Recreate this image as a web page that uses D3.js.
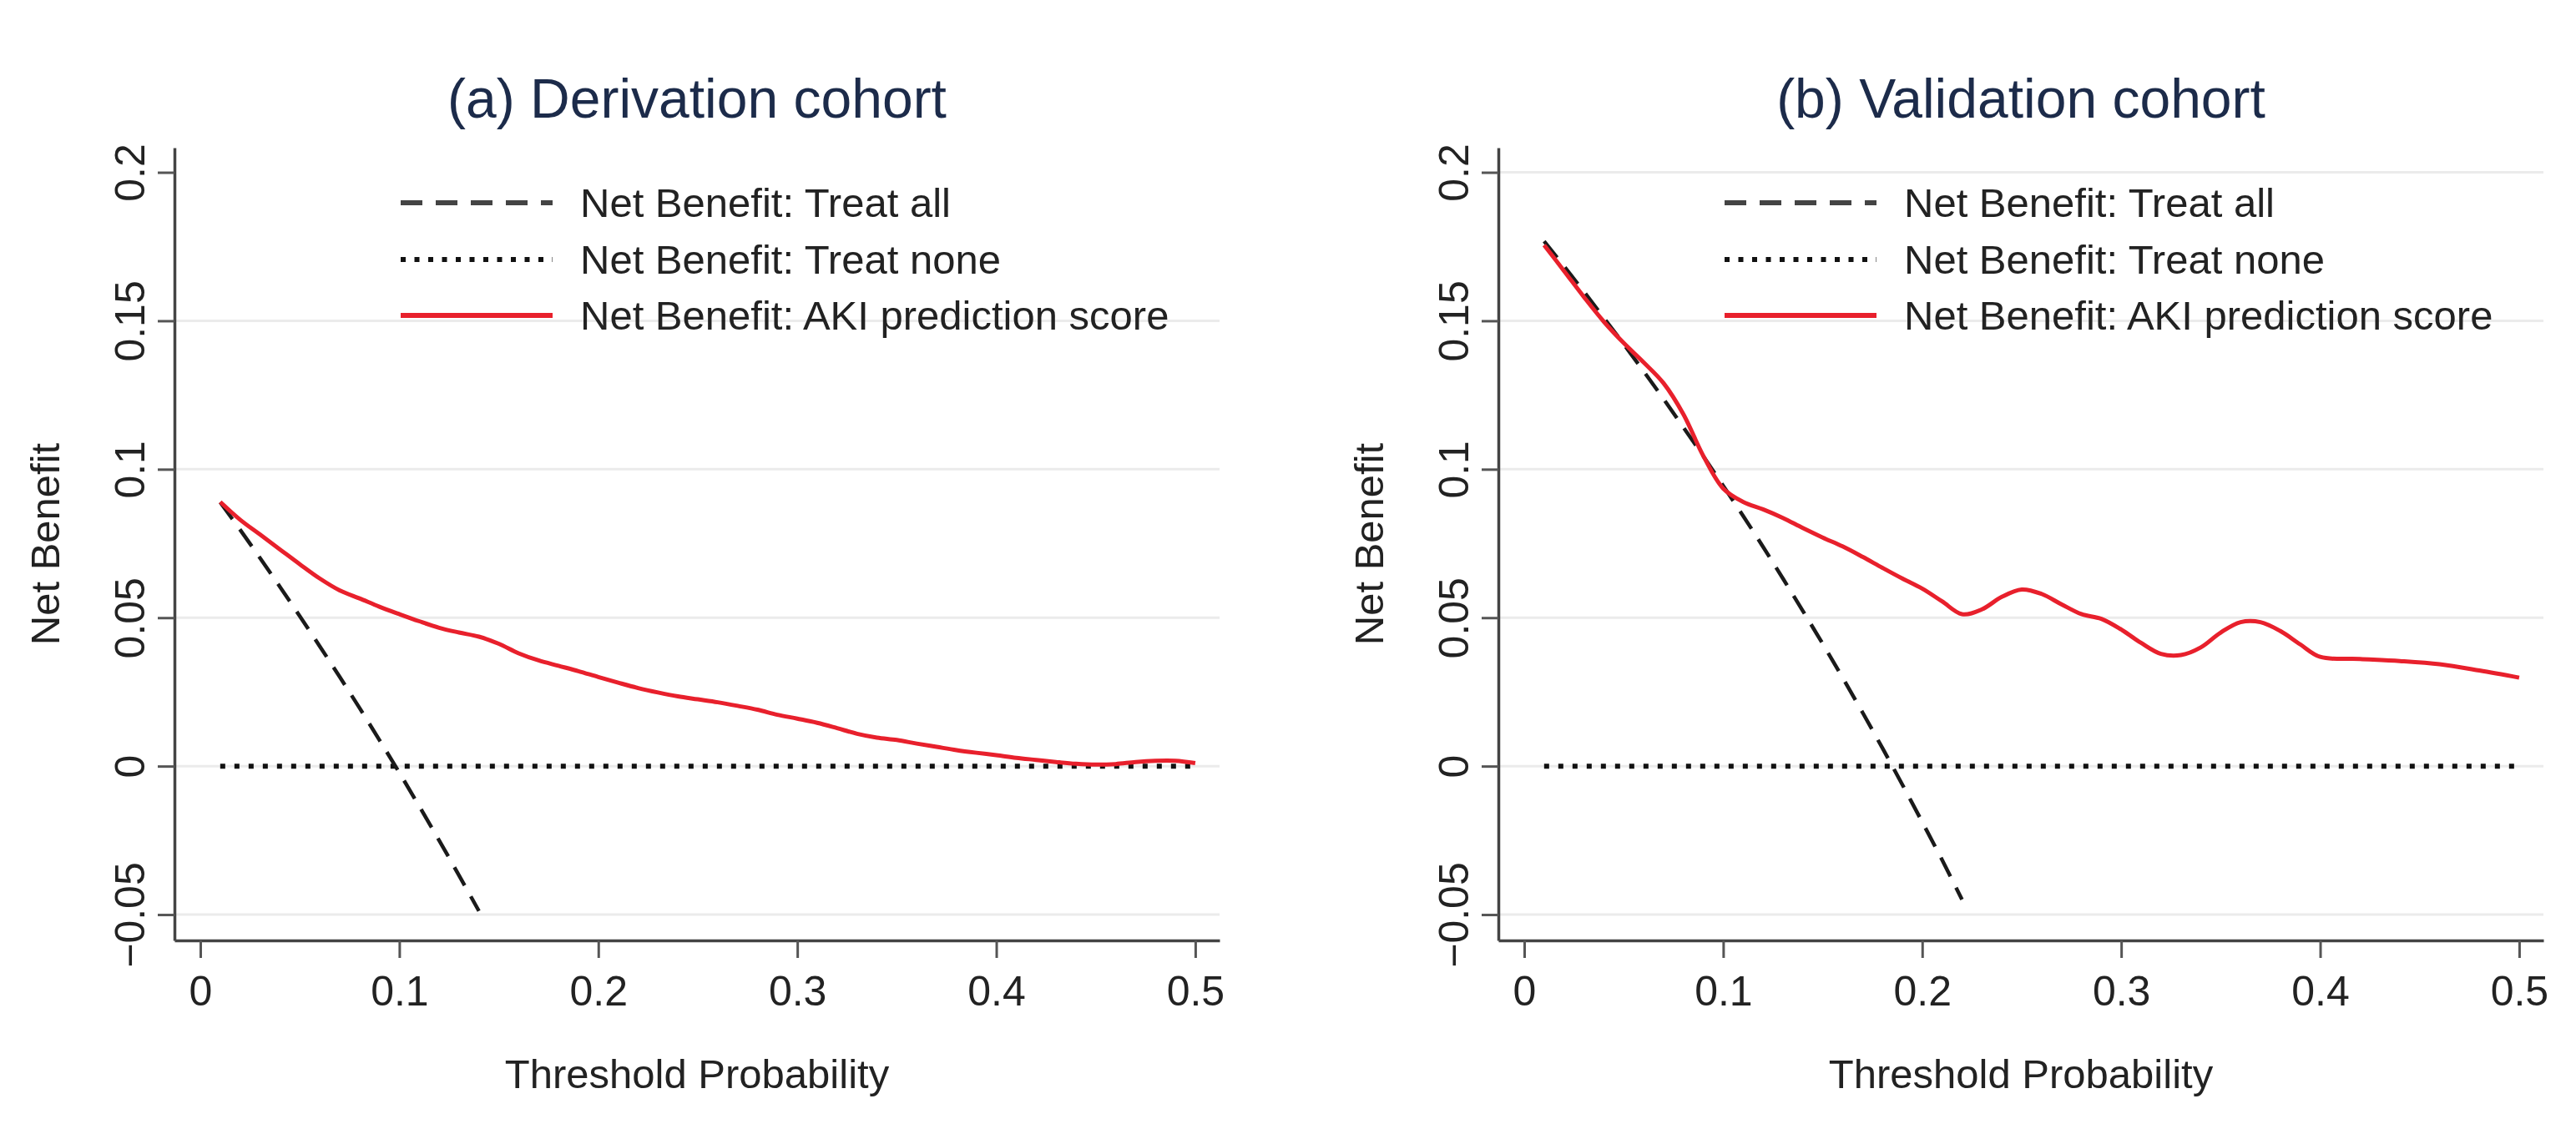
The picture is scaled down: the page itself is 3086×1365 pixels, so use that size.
<!DOCTYPE html>
<html>
<head>
<meta charset="utf-8">
<script src="https://cdn.jsdelivr.net/npm/d3@7"></script>
<style>
  body { margin: 0; background: #fff; }
  svg { display: block; font-family: "Liberation Sans", Arial, Helvetica, sans-serif; }
</style>
</head>
<body>
<svg id="chart" width="3086" height="1365"></svg>
<script>
// ---- data ----
const panelTitles = ["(a) Derivation cohort", "(b) Validation cohort"];
const legendLabels = ["Net Benefit: Treat all", "Net Benefit: Treat none", "Net Benefit: AKI prediction score"];
const xTicks = [0, 0.1, 0.2, 0.3, 0.4, 0.5];
const yTicks = [-0.05, 0, 0.05, 0.1, 0.15, 0.2];
const xTitle = "Threshold Probability";
const yTitle = "Net Benefit";

const treatNonePt = [0.01, 0.5];
const treatNoneNB = [0, 0];

// (a) derivation cohort
const derivAllPt = [0.01, 0.02, 0.03, 0.04, 0.05, 0.06, 0.07, 0.08, 0.09, 0.10, 0.11, 0.12, 0.13, 0.14];
const derivAllNB = [0.0889, 0.0796, 0.0701, 0.0604, 0.0505, 0.0404, 0.0301, 0.0196, 0.0088, -0.0022, -0.0135, -0.0250, -0.0368, -0.0488];
const derivScorePt = [0.01, 0.02, 0.03, 0.04, 0.05, 0.06, 0.07, 0.08, 0.09, 0.10,
  0.11, 0.12, 0.13, 0.14, 0.15, 0.16, 0.17, 0.18, 0.19, 0.20,
  0.21, 0.22, 0.23, 0.24, 0.25, 0.26, 0.27, 0.28, 0.29, 0.30,
  0.31, 0.32, 0.33, 0.34, 0.35, 0.36, 0.37, 0.38, 0.39, 0.40,
  0.41, 0.42, 0.43, 0.44, 0.45, 0.46, 0.47, 0.48, 0.49, 0.50];
const derivScoreNB = [0.0890, 0.0830, 0.0780, 0.0730, 0.0680, 0.0632, 0.0592, 0.0565, 0.0537, 0.0512,
  0.0488, 0.0466, 0.0450, 0.0436, 0.0412, 0.0380, 0.0356, 0.0338, 0.0320, 0.0300,
  0.0281, 0.0263, 0.0248, 0.0235, 0.0225, 0.0215, 0.0203, 0.0190, 0.0173, 0.0160,
  0.0146, 0.0128, 0.0109, 0.0096, 0.0088, 0.0076, 0.0065, 0.0054, 0.0045, 0.0037,
  0.0028, 0.0021, 0.0014, 0.0008, 0.0005, 0.0007, 0.0014, 0.0018, 0.0018, 0.0010];

// (b) validation cohort
const validAllPt = [0.01, 0.02, 0.03, 0.04, 0.05, 0.06, 0.07, 0.08, 0.09, 0.10, 0.11,
  0.12, 0.13, 0.14, 0.15, 0.16, 0.17, 0.18, 0.19, 0.20, 0.21, 0.22];
const validAllNB = [0.1768, 0.1684, 0.1598, 0.1510, 0.1421, 0.1330, 0.1237, 0.1141, 0.1044, 0.0944, 0.0843,
  0.0739, 0.0632, 0.0523, 0.0412, 0.0298, 0.0181, 0.0061, -0.0062, -0.0188, -0.0316, -0.0449];
const validScorePt = [0.01, 0.02, 0.03, 0.04, 0.05, 0.06, 0.07, 0.08, 0.09, 0.10,
  0.11, 0.12, 0.13, 0.14, 0.15, 0.16, 0.17, 0.18, 0.19, 0.20,
  0.21, 0.22, 0.23, 0.24, 0.25, 0.26, 0.27, 0.28, 0.29, 0.30,
  0.31, 0.32, 0.33, 0.34, 0.35, 0.36, 0.37, 0.38, 0.39, 0.40,
  0.42, 0.44, 0.46, 0.48, 0.50];
const validScoreNB = [0.1755, 0.1668, 0.1580, 0.1497, 0.1425, 0.1360, 0.1290, 0.1185, 0.1045, 0.0935,
  0.0890, 0.0865, 0.0836, 0.0802, 0.0770, 0.0740, 0.0705, 0.0668, 0.0632, 0.0598,
  0.0555, 0.0512, 0.0528, 0.0570, 0.0595, 0.0580, 0.0545, 0.0512, 0.0496, 0.0460,
  0.0415, 0.0378, 0.0374, 0.0400, 0.0450, 0.0485, 0.0485, 0.0455, 0.0410, 0.0368,
  0.0361, 0.0354, 0.0343, 0.0322, 0.0298];

const panels = [
  { title: panelTitles[0], left: 209, allPt: derivAllPt, allNB: derivAllNB, scorePt: derivScorePt, scoreNB: derivScoreNB, topGrid: false },
  { title: panelTitles[1], left: 1795, allPt: validAllPt, allNB: validAllNB, scorePt: validScorePt, scoreNB: validScoreNB, topGrid: true }
];

// ---- layout ----
const plotW = 1252;
const plotTop = 177;
const plotBottom = 1127;
const xDomain = [-0.013, 0.5122];
const yDomain = [-0.0587, 0.2083];
const red = "#e8202c";
const dark = "#222";

const svg = d3.select("#chart");
const fmt = d => d === 0 ? "0" : String(d).replace("-", "\u2212");
const zip = (xs, ys) => xs.map((x, i) => [x, ys[i]]);

panels.forEach(p => {
  const x = d3.scaleLinear().domain(xDomain).range([p.left, p.left + plotW]);
  const y = d3.scaleLinear().domain(yDomain).range([plotBottom, plotTop]);
  const g = svg.append("g");

  // gridlines
  g.append("g").selectAll("line")
    .data(yTicks.filter(t => p.topGrid || t < 0.2))
    .enter().append("line")
    .attr("x1", p.left).attr("x2", p.left + plotW)
    .attr("y1", d => y(d)).attr("y2", d => y(d))
    .attr("stroke", "#ebebeb").attr("stroke-width", 3);

  // axes
  const xAxis = g.append("g")
    .attr("transform", `translate(0,${plotBottom})`)
    .call(d3.axisBottom(x).tickValues(xTicks).tickFormat(fmt).tickSize(21).tickSizeOuter(0));
  xAxis.select(".domain").attr("stroke", "#444").attr("stroke-width", 3.5);
  xAxis.selectAll(".tick line").attr("stroke", "#555").attr("stroke-width", 3);
  xAxis.selectAll(".tick text")
    .attr("y", 78).attr("dy", null)
    .attr("font-size", 50).attr("fill", dark);

  const yAxis = g.append("g")
    .attr("transform", `translate(${p.left},0)`)
    .call(d3.axisLeft(y).tickValues(yTicks).tickFormat(fmt).tickSize(20).tickSizeOuter(0));
  yAxis.select(".domain").attr("stroke", "#444").attr("stroke-width", 3.5);
  yAxis.selectAll(".tick line").attr("stroke", "#555").attr("stroke-width", 3);
  yAxis.selectAll(".tick text")
    .attr("transform", "rotate(-90)")
    .attr("x", 0).attr("y", -36).attr("dy", null)
    .attr("text-anchor", "middle")
    .attr("font-size", 50).attr("fill", dark);
  svg.selectAll(".tick text").attr("font-family", null);

  // titles
  g.append("text")
    .attr("x", p.left + plotW / 2).attr("y", 141)
    .attr("text-anchor", "middle")
    .attr("font-size", 66).attr("fill", "#1c2b4a")
    .text(p.title);
  g.append("text")
    .attr("x", p.left + plotW / 2).attr("y", 1304)
    .attr("text-anchor", "middle")
    .attr("font-size", 49).attr("fill", dark)
    .text(xTitle);
  g.append("text")
    .attr("transform", `translate(${p.left - 138},${(plotTop + plotBottom) / 2}) rotate(-90)`)
    .attr("text-anchor", "middle")
    .attr("font-size", 49).attr("fill", dark)
    .text(yTitle);

  // series
  const linear = d3.line().x(d => x(d[0])).y(d => y(d[1]));
  const smooth = d3.line().x(d => x(d[0])).y(d => y(d[1])).curve(d3.curveCatmullRom.alpha(0.5));

  g.append("path")
    .attr("d", linear(zip(treatNonePt, treatNoneNB)))
    .attr("fill", "none").attr("stroke", "#111")
    .attr("stroke-width", 6).attr("stroke-dasharray", "6,11");
  g.append("path")
    .attr("d", smooth(zip(p.allPt, p.allNB)))
    .attr("fill", "none").attr("stroke", "#1a1a1a")
    .attr("stroke-width", 4.5).attr("stroke-dasharray", "25,15");
  g.append("path")
    .attr("d", smooth(zip(p.scorePt, p.scoreNB)))
    .attr("fill", "none").attr("stroke", red)
    .attr("stroke-width", 5).attr("stroke-linejoin", "round");

  // legend
  const legendStyles = [
    { stroke: "#444", width: 6, dash: "26,16" },
    { stroke: "#111", width: 6, dash: "6,10.5" },
    { stroke: red, width: 6, dash: null }
  ];
  const lx = p.left + 271;
  const rows = [243, 311, 378];
  const leg = g.append("g");
  leg.selectAll("line")
    .data(legendLabels)
    .enter().append("line")
    .attr("x1", lx).attr("x2", lx + 182)
    .attr("y1", (d, i) => rows[i]).attr("y2", (d, i) => rows[i])
    .attr("stroke", (d, i) => legendStyles[i].stroke)
    .attr("stroke-width", (d, i) => legendStyles[i].width)
    .attr("stroke-dasharray", (d, i) => legendStyles[i].dash);
  leg.selectAll("text")
    .data(legendLabels)
    .enter().append("text")
    .attr("x", lx + 215)
    .attr("y", (d, i) => rows[i] + 17)
    .attr("font-size", 49).attr("fill", dark)
    .text(d => d);
});
</script>
</body>
</html>
